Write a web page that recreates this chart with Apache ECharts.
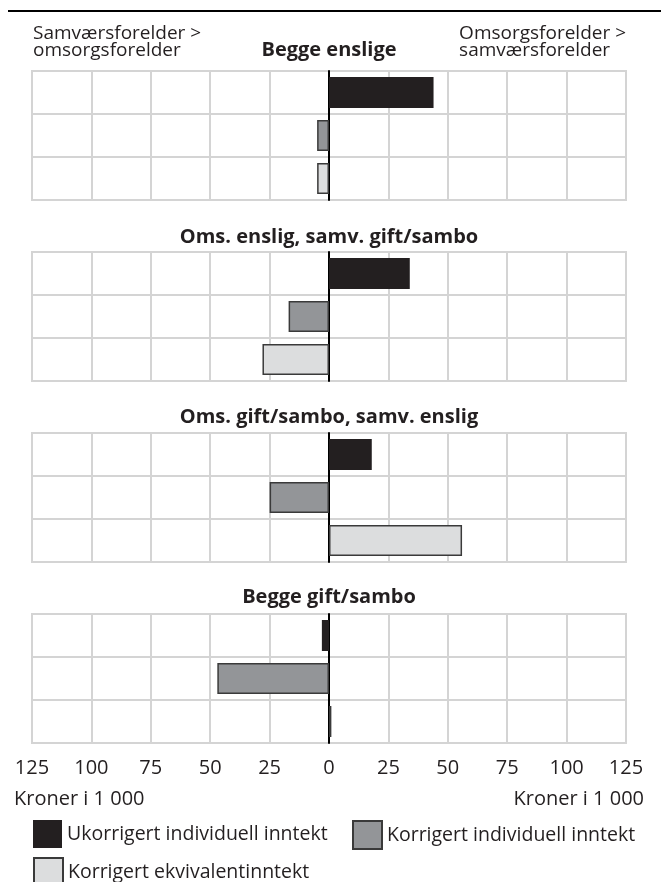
<!DOCTYPE html>
<html>
<head>
<meta charset="utf-8">
<script src="https://cdn.jsdelivr.net/npm/echarts@6/dist/echarts.min.js"></script>
<style>html,body{margin:0;padding:0;background:#fff}#c{width:661px;height:882px}</style>
</head>
<body>
<div id="c"></div>
<script>
const panels = ['Begge enslige', 'Oms. enslig, samv. gift/sambo', 'Oms. gift/sambo, samv. enslig', 'Begge gift/sambo'];
const seriesNames = ['Ukorrigert individuell inntekt', 'Korrigert individuell inntekt', 'Korrigert ekvivalentinntekt'];
const ukorrigert = [44, 34, 18, -3];
const korrigert = [-5, -17, -25, -47];
const ekvivalent = [-5, -28, 56, 1];
const tickValues = [-125, -100, -75, -50, -25, 0, 25, 50, 75, 100, 125];
const axisTitle = 'Kroner i 1 000';
const leftNote = 'Samværsforelder >\nomsorgsforelder';
const rightNote = 'Omsorgsforelder >\nsamværsforelder';

const FONT = 'Open Sans';
const TXT = '#231f20';
const colors = ['#231f20', '#939598', '#dcddde'];
const borders = [0, 1.5, 1.5];
const gridTops = [71, 252, 433, 614];
const titleTops = [40, 227, 407, 587];
const values = [ukorrigert, korrigert, ekvivalent];

const grid = [], xAxis = [], yAxis = [], series = [], title = [];
panels.forEach((p, i) => {
  grid.push({left: 32, right: 35, top: gridTops[i], height: 129, show: true, borderColor: '#d4d4d4', borderWidth: 2, backgroundColor: 'transparent'});
  xAxis.push({
    type: 'value', gridIndex: i, min: tickValues[0], max: tickValues[tickValues.length - 1], interval: 25,
    axisLine: {show: false}, axisTick: {show: false},
    splitLine: {show: true, lineStyle: {color: '#d4d4d4', width: 2}},
    axisLabel: {show: i === 3, fontFamily: FONT, fontSize: 20, color: TXT, margin: 15,
      formatter: v => String(Math.abs(v))}
  });
  yAxis.push({
    type: 'category', gridIndex: i, inverse: true, data: seriesNames,
    axisLine: {show: true, onZero: true, lineStyle: {color: '#000', width: 2}},
    axisTick: {show: false}, axisLabel: {show: false},
    splitLine: {show: true, lineStyle: {color: '#d4d4d4', width: 2}}
  });
  title.push({text: p, left: 329, top: titleTops[i], textAlign: 'center', padding: 0,
    textStyle: {fontFamily: FONT, fontSize: 20, fontWeight: 'bold', color: TXT}});
  seriesNames.forEach((n, k) => {
    const d = seriesNames.map((_, j) => j === k ? values[k][i] : '-');
    series.push({
      name: n, type: 'bar', xAxisIndex: i, yAxisIndex: i, data: d,
      barWidth: 31, barGap: '-100%', silent: true, animation: false,
      itemStyle: {color: colors[k], borderColor: '#3a3a3a', borderWidth: borders[k]},
      z: 1
    });
  });
});

const legendPos = [{left: 33, top: 820}, {left: 352, top: 820}, {left: 33, top: 857}];
const legend = seriesNames.map((n, k) => ({
  data: [n], left: legendPos[k].left, top: legendPos[k].top, icon: 'rect', padding: 0,
  itemWidth: 29, itemHeight: 28, itemGap: 0, selectedMode: false,
  textStyle: {fontFamily: FONT, fontSize: 19.5, color: TXT}
}));

const chart = echarts.init(document.getElementById('c'), null, {renderer: 'canvas'});
chart.setOption({
  animation: false,
  backgroundColor: '#fff',
  title, grid, xAxis, yAxis, series, legend,
  graphic: [
    {type: 'line', shape: {x1: 8, y1: 11, x2: 661, y2: 11}, style: {stroke: '#000', lineWidth: 2}},
    {type: 'text', left: 33, top: 24, style: {text: leftNote, font: '19px "' + FONT + '"', fill: TXT, lineHeight: 17}},
    {type: 'text', right: 35, top: 24, style: {text: rightNote, font: '19px "' + FONT + '"', fill: TXT, lineHeight: 17, align: 'right'}},
    {type: 'text', left: 14, top: 789, style: {text: axisTitle, font: '20px "' + FONT + '"', fill: TXT}},
    {type: 'text', right: 17, top: 789, style: {text: axisTitle, font: '20px "' + FONT + '"', fill: TXT}}
  ]
});
</script>
</body>
</html>
